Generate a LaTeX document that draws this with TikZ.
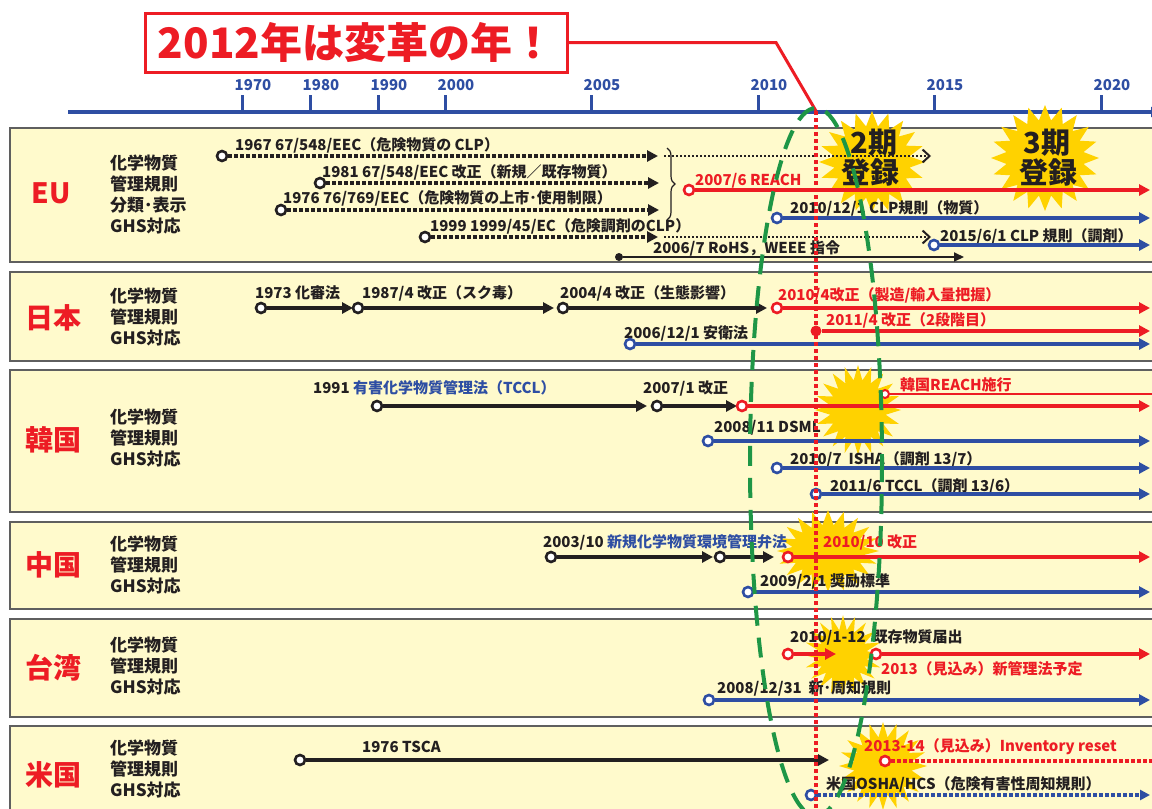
\documentclass[tikz,border=0pt]{standalone}
\usepackage{fontspec}
\setmainfont{Noto Sans CJK JP}
\usetikzlibrary{arrows.meta,shapes.symbols,decorations.pathreplacing}
\definecolor{jred}{RGB}{237,28,36}
\definecolor{jblue}{RGB}{46,78,163}
\definecolor{jblack}{RGB}{35,31,32}
\definecolor{panelfill}{RGB}{255,250,204}
\definecolor{panelline}{RGB}{95,95,95}
\definecolor{staryel}{RGB}{255,210,0}
\definecolor{jgreen}{RGB}{30,150,70}
\begin{document}
\begin{tikzpicture}[x=1pt,y=-1pt,
  lbl/.style={anchor=west,inner sep=0pt,text=jblack,font=\fontsize{15}{18}\selectfont\bfseries},
  rlbl/.style={lbl,text=jred},
  side/.style={anchor=west,inner sep=0pt,text=jblack,align=left,font=\fontsize{17}{21}\selectfont\bfseries},
  country/.style={text=jred,inner sep=0pt,font=\fontsize{28}{30}\selectfont\bfseries},
  panel/.style={draw=panelline,line width=1.5pt,fill=panelfill},
  evdot/.style={circle,draw=#1,fill=white,line width=2.6pt,minimum size=10pt,inner sep=0pt},
  evfill/.style={circle,fill=#1,minimum size=11pt,inner sep=0pt},
  kline/.style={draw=jblack,line width=4pt,-{Triangle[length=11pt,width=11pt]}},
  rline/.style={draw=jred,line width=4pt,-{Triangle[length=11pt,width=11pt]}},
  bline/.style={draw=jblue,line width=4pt,-{Triangle[length=11pt,width=11pt]}},
  kdots/.style={draw=jblack,line width=4pt,dash pattern=on 3.5pt off 2.5pt,-{Triangle[length=11pt,width=11pt]}},
  kthin/.style={draw=jblack,line width=2pt,dash pattern=on 2pt off 2pt,-{Straight Barb[length=7pt,width=13pt]}},
  burst/.style={starburst,starburst points=20,starburst point height=15pt,random starburst=0,fill=staryel,draw=none,inner sep=0pt},
  bursttext/.style={inner sep=0pt,text=jblack,font=\fontsize{29}{30}\selectfont\bfseries},
  tick/.style={draw=jblue,line width=3pt},
  ticklbl/.style={text=jblue,inner sep=0pt,font=\fontsize{15}{16}\selectfont\bfseries}
]
\useasboundingbox[fill=white] (0,0) rectangle (1152,809);

% ---------- title and axis ----------
\node[draw=jred,line width=3pt,fill=white,text=jred,minimum width=422pt,minimum height=59pt,inner sep=0pt,
      font=\fontsize{42}{46}\selectfont\bfseries] (title) at (356,42.5) {2012年は変革の年！};
\coordinate (axL) at (68,112);
\coordinate (axR) at (1160,112);
\draw[jblue,line width=4pt,-{Triangle[length=9pt,width=10pt]}] (axL) -- (axR);
\foreach \x/\yr in {242/1970,310/1980,378/1990,445/2000,591/2005,758/2010,934/2015,1101/2020}{
  \draw[tick] (\x,95) -- (\x,112);
  \node[ticklbl] (y\yr) at (\x+11,85) {\yr};
}

% ---------- panels ----------
\draw[panel] (10,128) rectangle (1165,262);
\draw[panel] (10,272) rectangle (1165,361);
\draw[panel] (10,370) rectangle (1165,512);
\draw[panel] (10,522) rectangle (1165,609);
\draw[panel] (10,619) rectangle (1165,717);
\draw[panel] (10,726) rectangle (1165,830);

\node[country] (cEU) at (51,193) {EU};
\node[country] (cJP) at (53,318) {日本};
\node[country] (cKR) at (53,440) {韓国};
\node[country] (cCN) at (53,565) {中国};
\node[country] (cTW) at (53,668) {台湾};
\node[country] (cUS) at (53,775) {米国};

\node[side] (sEU) at (110,194) {化学物質\\管理規則\\分類･表示\\GHS対応};
\node[side] (sJP) at (110,317) {化学物質\\管理規則\\GHS対応};
\node[side] (sKR) at (110,438) {化学物質\\管理規則\\GHS対応};
\node[side] (sCN) at (110,565) {化学物質\\管理規則\\GHS対応};
\node[side] (sTW) at (110,666) {化学物質\\管理規則\\GHS対応};
\node[side] (sUS) at (110,769) {化学物質\\管理規則\\GHS対応};

% ---------- starbursts ----------
\node[burst,minimum width=106pt,minimum height=102pt] (b2) at (872,162) {};
\node[burst,minimum width=108pt,minimum height=106pt] (b3) at (1045,158) {};
\node[burst,minimum width=86pt,minimum height=90pt] (bKR) at (858,410) {};
\node[burst,minimum width=102pt,minimum height=82pt] (bCN) at (828,551) {};
\node[burst,minimum width=78pt,minimum height=80pt] (bTW) at (843,655) {};
\node[burst,minimum width=88pt,minimum height=88pt] (bUS) at (883,766) {};

% ---------- EU ----------
\node[lbl] (le1) at (235,145) {1967 67/548/EEC（危険物質の CLP）};
\node[evdot=jblack] (e1) at (222,156) {};
\coordinate (e1a) at (658,156); \coordinate (e1b) at (664,156); \coordinate (e1c) at (931,156);
\draw[kdots] (e1) -- (e1a);
\draw[kthin] (e1b) -- (e1c);

\node[lbl] (le2) at (322,172) {1981 67/548/EEC 改正（新規／既存物質）};
\node[evdot=jblack] (e2) at (320,183) {};
\coordinate (e2a) at (659,183);
\draw[kdots] (e2) -- (e2a);

\node[lbl] (le3) at (283,198) {1976 76/769/EEC（危険物質の上市･使用制限）};
\node[evdot=jblack] (e3) at (281,210) {};
\coordinate (e3a) at (659,210);
\draw[kdots] (e3) -- (e3a);

\node[lbl] (le4) at (430,226) {1999 1999/45/EC（危険調剤のCLP）};
\node[evdot=jblack] (e4) at (425,237) {};
\coordinate (e4a) at (658,237); \coordinate (e4b) at (664,237); \coordinate (e4c) at (931,237);
\draw[kdots] (e4) -- (e4a);
\draw[kthin] (e4b) -- (e4c);

\coordinate (brT) at (667,148); \coordinate (brB) at (667,220);
\draw[jblack,line width=1.2pt,decorate,decoration={brace,amplitude=8pt}] (brT) -- (brB);

\node[rlbl] (le5) at (695,181) {2007/6 REACH};
\node[evdot=jred] (e5) at (689,190) {};
\coordinate (e5a) at (1150,190);
\draw[rline] (e5) -- (e5a);

\node[lbl] (le6) at (790,208) {2010/12/1 CLP規則（物質）};
\node[evdot=jblue] (e6) at (777,218) {};
\coordinate (e6a) at (1150,218);
\draw[bline] (e6) -- (e6a);

\node[lbl] (le7) at (940,236) {2015/6/1 CLP 規則（調剤）};
\node[evdot=jblue] (e7) at (934,245) {};
\coordinate (e7a) at (1150,245);
\draw[bline] (e7) -- (e7a);

\node[lbl] (le8) at (653,248) {2006/7 RoHS，WEEE 指令};
\node[evfill=jblack,minimum size=8pt] (e8) at (619,257) {};
\coordinate (e8a) at (964,257);
\draw[jblack,line width=2pt,-{Triangle[length=10pt,width=9pt]}] (e8) -- (e8a);

% burst texts
\node[bursttext] (t2a) at (874,143) {2期};
\node[bursttext] (t2b) at (870,172) {登録};
\node[bursttext] (t3a) at (1047,143) {3期};
\node[bursttext] (t3b) at (1048,172) {登録};

% ---------- Japan ----------
\node[lbl] (lj1) at (255,293) {1973 化審法};
\node[evdot=jblack] (j1) at (261,308) {};
\coordinate (j1a) at (353,308);
\draw[kline] (j1) -- (j1a);

\node[lbl] (lj2) at (362,293) {1987/4 改正（スク毒）};
\node[evdot=jblack] (j2) at (358,308) {};
\coordinate (j2a) at (554,308);
\draw[kline] (j2) -- (j2a);

\node[lbl] (lj3) at (560,293) {2004/4 改正（生態影響）};
\node[evdot=jblack] (j3) at (563,308) {};
\coordinate (j3a) at (767,308);
\draw[kline] (j3) -- (j3a);

\node[rlbl] (lj4) at (778,295) {2010/4改正（製造/輸入量把握）};
\node[evdot=jred] (j4) at (777,308) {};
\coordinate (j4a) at (1150,308);
\draw[rline] (j4) -- (j4a);

\node[rlbl] (lj5) at (826,320) {2011/4 改正（2段階目）};
\node[evfill=jred] (j5) at (816,331) {};
\coordinate (j5a) at (1150,331);
\draw[rline] (j5) -- (j5a);

\node[lbl] (lj6) at (624,333) {2006/12/1 安衛法};
\node[evdot=jblue] (j6) at (630,344) {};
\coordinate (j6a) at (1150,344);
\draw[bline] (j6) -- (j6a);

% ---------- Korea ----------
\node[lbl] (lk1) at (313,388) {1991 {\color{jblue}有害化学物質管理法（TCCL）}};
\node[evdot=jblack] (k1) at (377,406) {};
\coordinate (k1a) at (647,406);
\draw[kline] (k1) -- (k1a);

\node[lbl] (lk2) at (643,388) {2007/1 改正};
\node[evdot=jblack] (k2) at (657,406) {};
\coordinate (k2a) at (737,406);
\draw[kline] (k2) -- (k2a);

\node[evdot=jred] (k3) at (742,406) {};
\coordinate (k3a) at (1150,406);
\draw[rline] (k3) -- (k3a);

\node[rlbl] (lk4) at (900,385) {韓国REACH施行};
\node[evdot=jred,minimum size=8pt,line width=2pt] (k4) at (885,394) {};
\coordinate (k4a) at (1152,394);
\draw[jred,line width=2pt] (k4) -- (k4a);

\node[lbl] (lk5) at (714,428) {2008/11 DSML};
\node[evdot=jblue] (k5) at (708,441) {};
\coordinate (k5a) at (1150,441);
\draw[bline] (k5) -- (k5a);

\node[lbl] (lk6) at (790,459) {2010/7\ \ ISHA（調剤 13/7）};
\node[evdot=jblue] (k6) at (777,468) {};
\coordinate (k6a) at (1150,468);
\draw[bline] (k6) -- (k6a);

\node[lbl] (lk7) at (830,486) {2011/6 TCCL（調剤 13/6）};
\node[evdot=jblue] (k7) at (816,494) {};
\coordinate (k7a) at (1150,494);
\draw[bline] (k7) -- (k7a);

% ---------- China ----------
\node[lbl] (lc1) at (543,542) {2003/10 {\color{jblue}新規化学物質環境管理弁法}};
\node[evdot=jblack] (c1) at (551,557) {};
\coordinate (c1a) at (713,557);
\draw[kline] (c1) -- (c1a);
\node[evdot=jblack] (c1m) at (720,557) {};
\coordinate (c1b) at (774,557);
\draw[kline] (c1m) -- (c1b);

\node[rlbl] (lc2) at (823,542) {2010/10 改正};
\node[evdot=jred] (c2) at (788,557) {};
\coordinate (c2a) at (1150,557);
\draw[rline] (c2) -- (c2a);

\node[lbl] (lc3) at (760,581) {2009/2/1 奨励標準};
\node[evdot=jblue] (c3) at (748,592) {};
\coordinate (c3a) at (1150,592);
\draw[bline] (c3) -- (c3a);

% ---------- Taiwan ----------
\node[lbl] (lt1) at (790,637) {2010/1-12\ \ 既存物質届出};
\node[evdot=jred] (t1) at (788,654) {};
\coordinate (t1a) at (836,654);
\draw[rline] (t1) -- (t1a);

\node[evdot=jred] (t2) at (876,654) {};
\coordinate (t2x) at (1150,654);
\draw[rline] (t2) -- (t2x);
\node[rlbl] (lt2) at (881,669) {2013（見込み）新管理法予定};

\node[lbl] (lt3) at (717,688) {2008/12/31\ \ 新･周知規則};
\node[evdot=jblue] (t3) at (709,700) {};
\coordinate (t3a) at (1150,700);
\draw[bline] (t3) -- (t3a);

% ---------- USA ----------
\node[lbl] (lu1) at (362,747) {1976 TSCA};
\node[evdot=jblack] (u1) at (300,760) {};
\coordinate (u1a) at (829,760);
\draw[kline] (u1) -- (u1a);

\node[rlbl] (lu2) at (864,747) {2013-14（見込み）Inventory reset};
\node[evdot=jred] (u2) at (885,761) {};
\coordinate (u2a) at (1152,761);
\draw[jred,line width=4pt,dash pattern=on 3.5pt off 2.5pt] (u2) -- (u2a);

\node[lbl] (lu3) at (826,784) {米国OSHA/HCS（危険有害性周知規則）};
\node[evdot=jblue] (u3) at (811,795) {};
\coordinate (u3a) at (1150,795);
\draw[jblue,line width=3.5pt,dash pattern=on 3.5pt off 2.5pt,-{Triangle[length=10pt,width=10pt]}] (u3) -- (u3a);

% ---------- 2012 marker ----------
\coordinate (bend) at (776,42.5);
\coordinate (mark) at (816,111);
\coordinate (markB) at (816,812);
\draw[jred,line width=3pt,line join=miter] (title.east) -- (bend) -- (mark);
\draw[jred,line width=3.5pt,dash pattern=on 4pt off 3pt] (mark) -- (markB);
\draw[jgreen,line width=4pt,dash pattern=on 20pt off 12pt] (816,462) ellipse [x radius=66, y radius=354];
\end{tikzpicture}
\end{document}
